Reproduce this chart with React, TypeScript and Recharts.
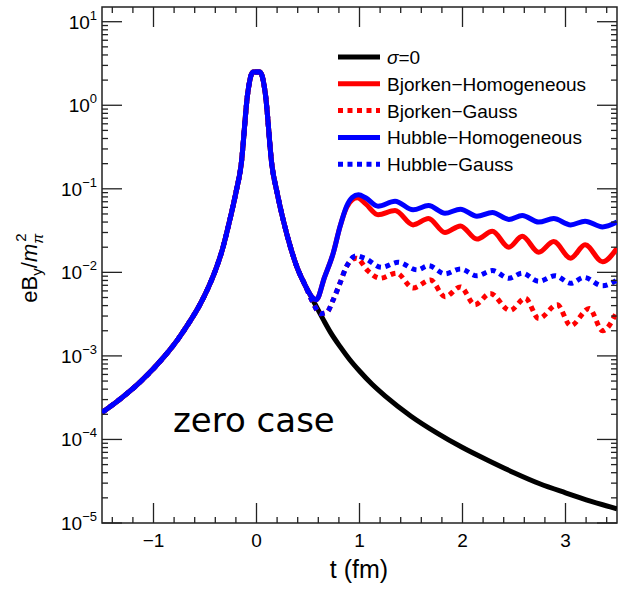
import { LineChart, Line, XAxis, YAxis, Legend, ReferenceArea } from 'recharts';

// t (fm) and eB_y/m_pi^2

// common part (all curves coincide here)
const earlyT = [-1.5, -1.33, -1.12, -0.89, -0.76, -0.65, -0.55, -0.47, -0.39, -0.33, -0.26, -0.2, -0.15, -0.085, -0.035, 0.035, 0.085, 0.15, 0.2, 0.26, 0.33, 0.39, 0.47];
const earlyB = [2.1e-4, 3.0e-4, 5.0e-4, 1.0e-3, 1.6e-3, 2.55e-3, 4.1e-3, 6.5e-3, 0.0113, 0.019, 0.042, 0.09, 0.19, 1.4, 2.5, 2.5, 1.4, 0.19, 0.09, 0.042, 0.02, 0.0118, 0.0071];

// sigma = 0
const vacuumT = [0.55, 0.65, 0.72, 0.81, 0.9, 1.0, 1.12, 1.25, 1.5, 1.75, 2.0, 2.25, 2.5, 2.75, 3.0, 3.25, 3.5];
const vacuumB = [0.0046, 0.0027, 0.0019, 0.0013, 9.2e-4, 6.6e-4, 4.6e-4, 3.3e-4, 1.9e-4, 1.2e-4, 8.0e-5, 5.6e-5, 4.0e-5, 2.95e-5, 2.3e-5, 1.82e-5, 1.48e-5];

// Bjorken - homogeneous
const bjHomT = [0.55, 0.58, 0.66, 0.745, 0.81, 0.875, 0.93, 0.98, 1.06, 1.18, 1.345, 1.52, 1.67, 1.83, 1.98, 2.14, 2.29, 2.45, 2.58, 2.74, 2.885, 3.05, 3.19, 3.36, 3.5];
const bjHomB = [0.0049, 0.0047, 0.0087, 0.017, 0.035, 0.06, 0.074, 0.078, 0.066, 0.049, 0.055, 0.037, 0.044, 0.03, 0.036, 0.025, 0.031, 0.02, 0.027, 0.0174, 0.0234, 0.0148, 0.0214, 0.0134, 0.0195];

// Bjorken - Gauss
const bjGaussT = [0.55, 0.62, 0.68, 0.745, 0.81, 0.875, 0.97, 1.08, 1.2, 1.36, 1.52, 1.69, 1.83, 1.98, 2.12, 2.27, 2.46, 2.61, 2.74, 2.92, 3.05, 3.23, 3.36, 3.5];
const bjGaussB = [0.0043, 0.0032, 0.0033, 0.0047, 0.0074, 0.0118, 0.0148, 0.0105, 0.0085, 0.0098, 0.0065, 0.0081, 0.0051, 0.0067, 0.0041, 0.0056, 0.0035, 0.0049, 0.0028, 0.0041, 0.0023, 0.0037, 0.002, 0.0034];

// Hubble - homogeneous
const hbHomT = [0.55, 0.58, 0.66, 0.745, 0.81, 0.875, 0.93, 0.99, 1.06, 1.18, 1.345, 1.52, 1.67, 1.83, 1.98, 2.14, 2.29, 2.45, 2.58, 2.74, 2.885, 3.05, 3.19, 3.36, 3.5];
const hbHomB = [0.0049, 0.0047, 0.0087, 0.017, 0.035, 0.062, 0.079, 0.085, 0.078, 0.062, 0.071, 0.056, 0.063, 0.051, 0.057, 0.047, 0.052, 0.043, 0.048, 0.04, 0.044, 0.037, 0.041, 0.035, 0.04];

// Hubble - Gauss
const hbGaussT = [0.55, 0.62, 0.68, 0.745, 0.81, 0.875, 0.966, 1.05, 1.215, 1.375, 1.56, 1.67, 1.83, 1.98, 2.14, 2.29, 2.45, 2.58, 2.74, 2.9, 3.05, 3.18, 3.36, 3.5];
const hbGaussB = [0.0043, 0.0032, 0.0033, 0.0047, 0.0074, 0.0118, 0.0158, 0.0148, 0.0115, 0.0132, 0.0107, 0.012, 0.0096, 0.011, 0.0091, 0.0105, 0.0085, 0.0098, 0.0078, 0.0091, 0.0074, 0.0087, 0.0069, 0.0081];

const xMajorTicks = [-1, 0, 1, 2, 3];
const xMinorTicks = [-1.4, -1.2, -0.8, -0.6, -0.4, -0.2, 0.2, 0.4, 0.6, 0.8, 1.2, 1.4, 1.6, 1.8, 2.2, 2.4, 2.6, 2.8, 3.2, 3.4];
const yMajorExp = [-5, -4, -3, -2, -1, 0, 1];
const yMinorMant = [2, 3, 4, 5, 6, 7, 8, 9];

const toPoints = (ts: number[], bs: number[]) => ts.map((t, i) => ({ t, b: bs[i] }));

const series = [
  { name: 'σ=0', color: '#000000', dash: undefined, data: toPoints([...earlyT, ...vacuumT], [...earlyB, ...vacuumB]) },
  { name: 'Bjorken−Homogeneous', color: '#ff0000', dash: undefined, data: toPoints([...earlyT, ...bjHomT], [...earlyB, ...bjHomB]) },
  { name: 'Bjorken−Gauss', color: '#ff0000', dash: '5 4.5', data: toPoints([...earlyT, ...bjGaussT], [...earlyB, ...bjGaussB]) },
  { name: 'Hubble−Homogeneous', color: '#0000ff', dash: undefined, data: toPoints([...earlyT, ...hbHomT], [...earlyB, ...hbHomB]) },
  { name: 'Hubble−Gauss', color: '#0000ff', dash: '5 4.5', data: toPoints([...earlyT, ...hbGaussT], [...earlyB, ...hbGaussB]) },
];

// frame of the plot area
const LEFT = 102;
const RIGHT = 617;
const TOP = 7;
const BOTTOM = 523;
const FRAME = '#222';
const FONT = '"Liberation Sans", Arial, sans-serif';

const yTicks = [
  ...yMajorExp.map((e) => Math.pow(10, e)),
  ...yMajorExp.slice(0, -1).flatMap((e) => yMinorMant.map((m) => m * Math.pow(10, e))),
];

function YTick(props: any) {
  const { y, payload } = props;
  const v = payload.value as number;
  const exp = Math.log10(v);
  const major = Math.abs(exp - Math.round(exp)) < 1e-6;
  const len = major ? 20 : 6;
  const e = Math.round(exp);
  return (
    <g>
      <line x1={LEFT} x2={LEFT + len} y1={y} y2={y} stroke={FRAME} strokeWidth={1.3} />
      <line x1={RIGHT} x2={RIGHT - len} y1={y} y2={y} stroke={FRAME} strokeWidth={1.3} />
      {major && (
        <text x={97} y={y + 7} textAnchor="end" fontSize={19} fontFamily={FONT} fill="#000">
          10
          <tspan dy={-9} fontSize={13}>{e < 0 ? `−${-e}` : `${e}`}</tspan>
        </text>
      )}
    </g>
  );
}

function XTick(props: any) {
  const { x, payload } = props;
  const v = payload.value as number;
  const major = Math.abs(v - Math.round(v)) < 1e-6;
  const len = major ? 20 : 6;
  return (
    <g>
      <line x1={x} x2={x} y1={BOTTOM} y2={BOTTOM - len} stroke={FRAME} strokeWidth={1.3} />
      <line x1={x} x2={x} y1={TOP} y2={TOP + len} stroke={FRAME} strokeWidth={1.3} />
      {major && (
        <text x={x} y={547} textAnchor="middle" fontSize={19} fontFamily={FONT} fill="#000">
          {v < 0 ? `−${-v}` : `${v}`}
        </text>
      )}
    </g>
  );
}

function LegendBox() {
  return (
    <svg width={270} height={140} style={{ display: 'block' }}>
      {series.map((s, i) => {
        const y = 13 + i * 26.8;
        return (
          <g key={s.name}>
            <line x1={0} x2={42} y1={y} y2={y} stroke={s.color} strokeWidth={5} strokeDasharray={s.dash} />
            {i === 0 ? (
              <text x={49} y={y + 7} fontSize={19} fontFamily={FONT} fill="#000">
                <tspan fontStyle="italic">σ</tspan>=0
              </text>
            ) : (
              <text x={49} y={y + 7} fontSize={19} fontFamily={FONT} fill="#000">
                {s.name}
              </text>
            )}
          </g>
        );
      })}
    </svg>
  );
}

export default function App() {
  return (
    <div style={{ position: 'absolute', left: 0, top: 0, width: 623, height: 589, background: '#fff' }}>
      <LineChart width={623} height={589} margin={{ top: TOP, right: 623 - RIGHT, bottom: 36, left: 42 }}>
        <XAxis
          type="number"
          dataKey="t"
          domain={[-1.5, 3.5]}
          ticks={[...xMajorTicks, ...xMinorTicks].sort((a, b) => a - b)}
          interval={0}
          allowDataOverflow
          height={30}
          axisLine={false}
          tickLine={false}
          tick={<XTick />}
        />
        <YAxis
          type="number"
          dataKey="b"
          scale="log"
          domain={[1e-5, 15]}
          ticks={yTicks}
          interval={0}
          allowDataOverflow
          width={60}
          axisLine={false}
          tickLine={false}
          tick={<YTick />}
        />
        <ReferenceArea x1={-1.5} x2={3.5} y1={1e-5} y2={15} fill="none" stroke={FRAME} strokeWidth={1.5} />
        {series.map((s) => (
          <Line
            key={s.name}
            data={s.data}
            dataKey="b"
            name={s.name}
            type="monotone"
            stroke={s.color}
            strokeWidth={5}
            strokeDasharray={s.dash}
            dot={false}
            isAnimationActive={false}
          />
        ))}
        <Legend
          layout="vertical"
          align="center"
          verticalAlign="middle"
          content={() => <LegendBox />}
          wrapperStyle={{ top: 44, left: 338, width: 270 }}
        />
        <text x={173} y={432} fontSize={34} fontFamily='"DejaVu Sans", Verdana, sans-serif' fill="#000">
          zero case
        </text>
        <text x={359} y={578} textAnchor="middle" fontSize={25} fontFamily={FONT} fill="#000">
          t (fm)
        </text>
        <text transform="translate(37,268) rotate(-90)" textAnchor="middle" fontSize={22} fontFamily={FONT} fill="#000">
          eB
          <tspan dy={5} fontSize={15}>y</tspan>
          <tspan dy={-5}>/</tspan>
          <tspan fontStyle="italic">m</tspan>
          <tspan dy={6} fontSize={15} fontStyle="italic">π</tspan>
          <tspan dx={-8} dy={-17} fontSize={15}>2</tspan>
        </text>
      </LineChart>
    </div>
  );
}
